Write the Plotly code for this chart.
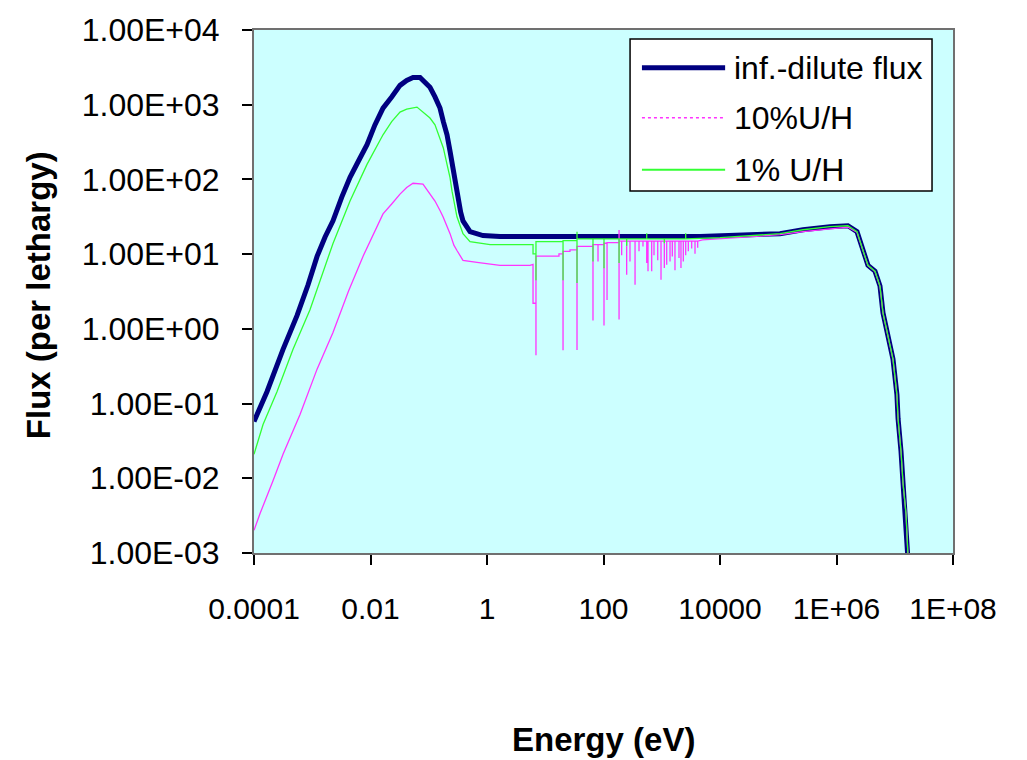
import plotly.graph_objects as go

# ---------------- data ----------------
X_TICK_VALUES = [1e-4, 1e-2, 1, 1e2, 1e4, 1e6, 1e8]
X_TICK_LABELS = ["0.0001", "0.01", "1", "100", "10000", "1E+06", "1E+08"]
Y_TICK_VALUES = [1e-3, 1e-2, 1e-1, 1, 1e1, 1e2, 1e3, 1e4]
Y_TICK_LABELS = ["1.00E-03", "1.00E-02", "1.00E-01", "1.00E+00",
                 "1.00E+01", "1.00E+02", "1.00E+03", "1.00E+04"]

SERIES_NAMES = ["inf.-dilute flux", "10%U/H", "1% U/H"]

# infinitely-dilute flux (energy eV, flux per lethargy)
INF_DILUTE_POINTS = [
    (1e-4, 0.0575), (1.67e-4, 0.144), (3.15e-4, 0.532), (5.47e-4, 1.50),
    (8.45e-4, 3.86), (1.21e-3, 9.33), (1.66e-3, 17.0), (2.27e-3, 27.9),
    (3.20e-3, 57.5), (4.45e-3, 107), (6.18e-3, 175), (8.71e-3, 292),
    (0.0119, 537), (0.0164, 901), (0.0231, 1271), (0.0321, 1815),
    (0.0418, 2115), (0.0537, 2317), (0.0708, 2317), (0.105, 1710),
    (0.128, 1271), (0.156, 901), (0.178, 593), (0.206, 396), (0.232, 238),
    (0.261, 145), (0.294, 86.3), (0.318, 51.4), (0.353, 36.4), (0.387, 27.9),
    (0.448, 23.1), (0.511, 20.0),
    (0.853, 17.7), (1.67, 17.2), (87, 17.2), (4540, 17.2),
    (1.07e5, 18.8), (2.66e5, 21.2), (7.73e5, 23.3), (1.57e6, 24.0),
    (2.25e6, 20.0), (2.85e6, 11.2), (3.47e6, 7.09), (4.58e6, 5.91),
    (5.58e6, 3.74), (6.28e6, 1.64), (7.66e6, 0.815), (9.33e6, 0.393),
    (1.09e7, 0.131), (1.14e7, 0.063), (1.28e7, 0.0231), (1.39e7, 0.00843),
    (1.56e7, 0.00338), (1.69e7, 0.001), (1.73e7, 0.0006),
]

# 10% U/H flux, with the resonance dips
U10_POINTS = [
    (1e-4, 0.00201), (1.27e-4, 0.00338), (2.12e-4, 0.00925), (3.15e-4, 0.0210),
    (6.17e-4, 0.0713), (1.21e-3, 0.289), (2.27e-3, 0.894), (4.2e-3, 3.21),
    (7.43e-3, 9.33), (0.0164, 34.6), (0.0231, 46.9), (0.0321, 63.6),
    (0.0418, 78.0), (0.0537, 88.9), (0.0796, 86.8), (0.128, 51.4),
    (0.156, 38.3), (0.176, 31.6), (0.232, 18.8), (0.270, 13.2),
    (0.305, 11.2), (0.387, 8.26), (0.673, 7.77), (1.67, 7.09), (5.47, 7.09),
    (6.17, 7.3), (6.17, 2.2), (6.93, 2.2), (6.93, 0.444), (6.93, 9.42),
    (17.2, 9.42), (17.2, 10.1), (20.2, 10.1), (20.2, 0.516), (20.2, 10.9),
    (26.6, 10.9), (26.6, 11.4), (35.1, 11.4), (35.1, 0.52), (35.1, 12.7),
    (66, 12.7), (66, 1.29), (66, 13.4), (80.5, 13.4), (80.5, 8.0), (80.5, 13.4),
    (102, 13.4), (102, 1.11), (102, 14.0), (115, 14.0), (115, 2.44), (115, 14.3),
    (185, 14.3), (185, 1.33), (185, 21.0), (185, 14.9),
    (205, 14.9), (205, 9.7), (205, 14.9), (250, 14.9), (250, 5.28), (250, 14.9),
    (285, 14.9), (285, 8.0), (285, 14.9), (348, 14.9), (348, 3.89), (348, 14.9),
    (407, 14.9), (407, 10.9), (407, 14.9), (476, 14.9), (476, 12.7), (476, 14.9),
    (552, 14.9), (552, 7.6), (552, 14.9), (581, 14.9), (581, 5.9), (581, 14.9),
    (672, 14.9), (672, 5.9), (672, 14.9), (736, 14.9), (736, 9.7), (736, 14.9),
    (853, 14.9), (853, 8.3), (853, 14.9), (971, 14.9), (971, 4.53), (971, 14.9),
    (1107, 14.9), (1107, 6.5), (1107, 14.9), (1216, 14.9), (1216, 7.2), (1216, 14.9),
    (1387, 14.9), (1387, 8.0), (1387, 14.9), (1518, 14.9), (1518, 9.3), (1518, 14.9),
    (1687, 14.9), (1687, 6.1), (1687, 14.9), (1977, 14.9), (1977, 8.9), (1977, 14.9),
    (2138, 14.9), (2138, 6.5), (2138, 14.9), (2344, 14.9), (2344, 8.0), (2344, 14.9),
    (2576, 14.9), (2576, 9.7), (2576, 14.9), (2856, 14.9), (2856, 10.9), (2856, 14.9),
    (3266, 14.9), (3266, 11.9), (3266, 14.9), (3724, 14.9), (3724, 10.1), (3724, 14.9),
    (4140, 14.9), (4140, 12.2), (4140, 14.9),
    (5000, 15.5), (1e4, 16.0), (1.07e5, 18.2), (2.66e5, 20.0), (7.73e5, 22.0),
    (1.57e6, 23.0), (2.25e6, 19.6), (2.85e6, 11.0), (3.47e6, 7.0), (4.58e6, 5.85),
    (5.58e6, 3.7), (6.28e6, 1.62), (7.66e6, 0.81), (9.33e6, 0.39), (1.09e7, 0.13),
    (1.14e7, 0.062), (1.28e7, 0.023), (1.39e7, 0.0084), (1.56e7, 0.0034),
    (1.69e7, 0.001), (1.73e7, 0.0006),
]

# 1% U/H flux, with the resonance dips
U1_POINTS = [
    (1e-4, 0.0210), (1.43e-4, 0.0525), (2.48e-4, 0.1435), (4.68e-4, 0.532),
    (9.14e-4, 1.80), (1.03e-3, 2.37), (2.27e-3, 13.9), (4.45e-3, 51.4),
    (8.71e-3, 159), (0.0164, 396), (0.0231, 593), (0.0321, 797),
    (0.0418, 874), (0.0628, 929), (0.105, 664), (0.128, 537),
    (0.156, 361), (0.178, 264), (0.206, 159), (0.232, 106), (0.251, 69.7),
    (0.305, 31.6), (0.387, 18.8), (0.511, 14.7), (1.13, 13.4), (5.47, 13.4),
    (6.17, 13.4), (6.17, 10.1), (6.93, 10.1), (6.93, 4.49), (6.93, 14.7),
    (20.2, 14.7), (20.2, 4.49), (20.2, 15.2),
    (35.1, 15.2), (35.1, 20.0), (35.1, 4.10), (35.1, 16.0),
    (66, 16.0), (66, 8.0), (66, 16.0), (102, 16.0), (102, 6.47), (102, 16.0),
    (185, 16.0), (185, 7.6), (185, 16.0), (250, 16.0), (250, 13.0), (250, 16.0),
    (552, 16.0), (552, 19.0), (552, 16.0), (1107, 16.0), (1107, 14.0), (1107, 16.0),
    (2576, 16.0), (2576, 19.0), (2576, 16.0),
    (1e4, 16.6), (1.07e5, 18.8), (2.66e5, 21.2), (7.73e5, 23.3), (1.57e6, 24.0),
    (2.25e6, 20.0), (2.85e6, 11.2), (3.47e6, 7.09), (4.58e6, 5.91),
    (5.58e6, 3.74), (6.28e6, 1.64), (7.66e6, 0.815), (9.33e6, 0.393),
    (1.09e7, 0.131), (1.14e7, 0.063), (1.28e7, 0.0231), (1.39e7, 0.00843),
    (1.56e7, 0.00338), (1.69e7, 0.001), (1.73e7, 0.0006),
]

# ---------------- styling ----------------
FONT = "Liberation Sans, Arial, sans-serif"
NAVY = "#000080"
PINK = "#FF33FF"
GREEN = "#33FF33"


def unzip(points):
    return [p[0] for p in points], [p[1] for p in points]


fig = go.Figure()
for pts, name, color, width in [
    (INF_DILUTE_POINTS, SERIES_NAMES[0], NAVY, 5),
    (U10_POINTS, SERIES_NAMES[1], PINK, 1.3),
    (U1_POINTS, SERIES_NAMES[2], GREEN, 1.3),
]:
    e, f = unzip(pts)
    fig.add_trace(go.Scatter(x=e, y=f, mode="lines", name=name,
                             line=dict(color=color, width=width),
                             showlegend=False))

fig.update_layout(
    width=1027, height=760,
    margin=dict(l=254, r=74, t=24, b=207),
    paper_bgcolor="white",
    plot_bgcolor="#CCFFFF",
    font=dict(family=FONT, color="black"),
)
fig.update_xaxes(
    type="log", range=[-4, 8],
    tickmode="array", tickvals=X_TICK_VALUES, ticktext=X_TICK_LABELS,
    tickfont=dict(size=30, family=FONT),
    ticks="outside", ticklen=10, tickwidth=1.5, tickcolor="black",
    showline=True, linecolor="#707070", linewidth=2, mirror=True,
    showgrid=False, zeroline=False, ticklabelstandoff=18,
)
fig.update_yaxes(
    type="log", range=[-3, 4],
    tickmode="array", tickvals=Y_TICK_VALUES, ticktext=Y_TICK_LABELS,
    tickfont=dict(size=32, family=FONT),
    ticks="outside", ticklen=10, tickwidth=1.5, tickcolor="black",
    showline=True, linecolor="#707070", linewidth=2, mirror=True,
    showgrid=False, zeroline=False, ticklabelstandoff=16,
)

# axis titles
fig.add_annotation(text="<b>Energy (eV)</b>", xref="paper", yref="paper",
                   x=0.4993, y=-0.357, showarrow=False,
                   xanchor="center", yanchor="middle",
                   font=dict(size=33, family=FONT))
fig.add_annotation(text="<b>Flux (per lethargy)</b>", xref="paper", yref="paper",
                   x=-0.309, y=0.493, showarrow=False, textangle=-90,
                   xanchor="center", yanchor="middle",
                   font=dict(size=33, family=FONT))

# legend box drawn by hand to match the original layout
fig.add_shape(type="rect", xref="paper", yref="paper",
              x0=0.538, x1=0.970, y0=0.692, y1=0.983,
              line=dict(color="black", width=1.5), fillcolor="white", layer="above")
legend_rows = [(0.928, NAVY, 5, "solid"), (0.832, PINK, 1.5, "3px,3px"), (0.733, GREEN, 2, "solid")]
for (yy, color, width, dash), name in zip(legend_rows, SERIES_NAMES):
    fig.add_shape(type="line", xref="paper", yref="paper",
                  x0=0.555, x1=0.674, y0=yy, y1=yy,
                  line=dict(color=color, width=width, dash=dash), layer="above")
    fig.add_annotation(text=name, xref="paper", yref="paper",
                       x=0.684, y=yy, showarrow=False,
                       xanchor="left", yanchor="middle",
                       font=dict(size=32, family=FONT))

fig.write_html(
    "out.html",
    config={"displayModeBar": False},
    post_script="document.body.style.margin='0';document.body.style.overflow='hidden';",
)
